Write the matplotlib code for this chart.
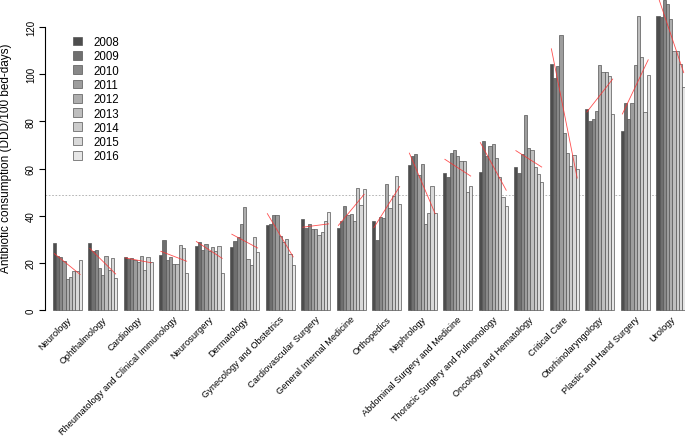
import numpy as np
import matplotlib
matplotlib.use('Agg')
import matplotlib.pyplot as plt

plt.rcParams['font.family'] = ['Liberation Sans', 'DejaVu Sans']

departments = ['Neurology', 'Ophthalmology', 'Cardiology',
               'Rheumatology and Clinical Immunology', 'Neurosurgery',
               'Dermatology', 'Gynecology and Obstetrics', 'Cardiovascular Surgery',
               'General Internal Medicine', 'Orthopedics', 'Nephrology',
               'Abdominal Surgery and Medicine', 'Thoracic Surgery and Pulmonology',
               'Oncology and Hematology', 'Critical Care', 'Otorhinolaryngology',
               'Plastic and Hand Surgery', 'Urology']
years = [2008, 2009, 2010, 2011, 2012, 2013, 2014, 2015, 2016]

# DDD/100 bed-days, one list per year, in department order
ddd_2008 = [28.4, 28.4, 22.3, 23.2, 27.2, 26.9, 35.9, 38.6, 34.8, 37.9, 61.6, 58.1, 58.5, 60.6, 104.3, 85.1, 75.9, 124.8]
ddd_2009 = [22.8, 25.0, 21.6, 29.8, 29.0, 29.1, 36.3, 34.8, 37.7, 29.8, 65.5, 56.4, 71.5, 58.1, 98.4, 80.3, 87.8, 124.1]
ddd_2010 = [22.3, 25.4, 22.1, 21.2, 25.5, 31.1, 40.1, 36.3, 44.0, 39.3, 66.0, 66.6, 65.5, 66.2, 103.4, 81.0, 81.0, 131.5]
ddd_2011 = [20.9, 17.7, 21.3, 22.5, 27.9, 36.5, 40.4, 34.4, 40.1, 38.9, 57.3, 67.7, 69.4, 82.8, 116.5, 84.5, 87.8, 129.8]
ddd_2012 = [13.1, 14.8, 20.2, 19.6, 25.0, 43.5, 31.2, 34.4, 40.6, 53.6, 62.1, 65.5, 70.4, 68.6, 74.9, 103.8, 103.9, 123.4]
ddd_2013 = [13.9, 22.9, 22.8, 19.5, 26.8, 21.6, 28.7, 31.9, 37.7, 43.3, 36.3, 63.3, 64.3, 67.9, 66.4, 100.8, 124.5, 109.7]
ddd_2014 = [16.4, 16.8, 16.8, 27.4, 25.0, 18.9, 30.1, 32.9, 51.6, 48.5, 41.0, 63.3, 56.5, 60.8, 60.9, 100.8, 107.2, 109.7]
ddd_2015 = [16.4, 21.9, 22.3, 26.3, 27.2, 30.8, 23.7, 37.7, 44.5, 56.7, 52.4, 49.9, 47.8, 57.7, 65.7, 99.4, 83.8, 104.3]
ddd_2016 = [21.3, 13.4, 20.2, 15.6, 15.7, 24.5, 18.9, 41.4, 51.2, 44.8, 41.0, 52.4, 44.2, 54.3, 59.8, 83.0, 99.7, 94.7]

overall_mean = 48.6  # dotted reference line

values = np.array([ddd_2008, ddd_2009, ddd_2010, ddd_2011, ddd_2012,
                   ddd_2013, ddd_2014, ddd_2015, ddd_2016]).T

# grey ramp like R's gray.colors(9)
lev = np.linspace(0.3 ** 2.2, 0.9 ** 2.2, len(years)) ** (1 / 2.2)
colors = [(g, g, g) for g in lev]

fig = plt.figure(figsize=(6.85, 4.39), dpi=100)
ax = fig.add_axes([45 / 685, 128 / 439, 640 / 685, 311 / 439])

n_years = len(years)
group_step = n_years + 2
handles = []
for j in range(n_years):
    xs = [i * group_step + 2 + j + 0.5 for i in range(len(departments))]
    h = ax.bar(xs, values[:, j], width=1.0, color=colors[j], edgecolor='#555555',
               linewidth=0.5, clip_on=False, label=str(years[j]))
    handles.append(h)

# linear trend per department
for i in range(len(departments)):
    slope, icpt = np.polyfit(years, values[i], 1)
    x0 = i * group_step + 2 + 0.5
    x1 = x0 + n_years - 1
    ax.plot([x0, x1], [icpt + slope * years[0], icpt + slope * years[-1]],
            color='#ff3030', linewidth=0.6, alpha=0.85, zorder=3)

ax.axhline(overall_mean, color='#aaaaaa', linestyle=(0, (2, 2)), linewidth=0.6, zorder=0)

ax.set_xlim(-0.39, 197.9)
ax.set_ylim(0, 131.9)

for sp in ['top', 'right', 'bottom']:
    ax.spines[sp].set_visible(False)
ax.spines['left'].set_bounds(0, 120)
ax.spines['left'].set_linewidth(0.8)
ax.set_xticks([])
ax.set_yticks(range(0, 121, 20))
ax.tick_params(axis='y', length=4, width=0.8, pad=2.5, labelsize=7)
for lab in ax.get_yticklabels():
    lab.set_rotation(90)
    lab.set_va('center')

for i, name in enumerate(departments):
    cx = i * group_step + 2 + n_years / 2
    ax.text(cx + 0.8, -3.2, name, rotation=45, ha='right', va='center',
            rotation_mode='anchor', fontsize=6.65, clip_on=False)

fig.text(6.5 / 685, 1 - 158 / 439, 'Antibiotic consumption (DDD/100 bed-days)',
         rotation=90, ha='center', va='center', fontsize=8.5)

ax.legend(handles=handles, loc='upper left', bbox_to_anchor=(73 / 685, 1 - 37 / 439),
          bbox_transform=fig.transFigure, frameon=False, fontsize=8.3,
          handlelength=0.78, handleheight=0.78, handletextpad=0.95,
          labelspacing=0.2, borderpad=0, borderaxespad=0)

fig.savefig('out.png', dpi=100)
